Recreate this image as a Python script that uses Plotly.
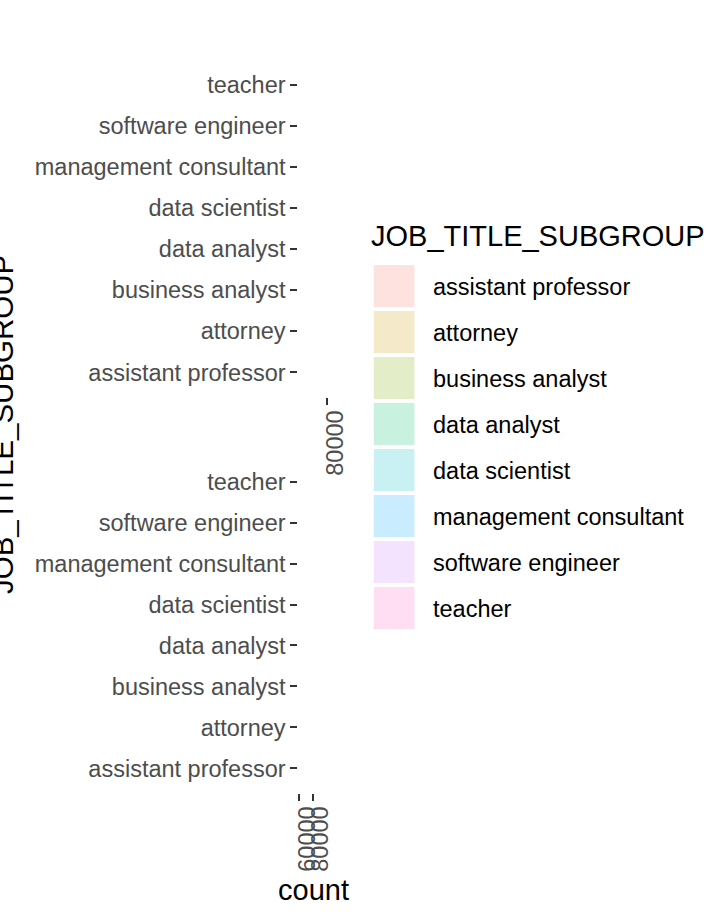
import plotly.graph_objects as go

# ---------------- data ----------------
job_titles = ["assistant professor", "attorney", "business analyst", "data analyst",
              "data scientist", "management consultant", "software engineer", "teacher"]
fill_colors = ["#F8766D", "#CD9600", "#7CAE00", "#00BE67",
               "#00BFC4", "#00A9FF", "#C77CFF", "#FF61CC"]
# counts per facet (bars fall outside the visible x-range in the reference)
counts_top = [42, 38, 51, 47, 55, 36, 60, 44]
counts_bottom = [40, 35, 49, 45, 52, 33, 58, 41]
# x-axis ticks per facet
top_tickvals = [80000]
top_ticktext = ["80000"]
top_range = [60000, 81300]
bottom_tickvals = [60000, 80000]
bottom_ticktext = ["60000", "80000"]
bottom_range = [58636, 104091]

legend_title = "JOB_TITLE_SUBGROUP"
x_title = "count"
y_title = "JOB_TITLE_SUBGROUP"

# ---------------- layout helpers ----------------
W, H = 720, 921
FONT = "Liberation Sans, Arial, sans-serif"
DX = 6  # horizontal correction
ALPHA = 0.21


def fx(px):
    return (px + DX) / W


def fy(py):
    return 1 - py / H


def rgba(hexc, a=ALPHA):
    h = hexc.lstrip("#")
    r, g, b = int(h[0:2], 16), int(h[2:4], 16), int(h[4:6], 16)
    return f"rgba({r},{g},{b},{a})"


fig = go.Figure()

for i, t in enumerate(job_titles):
    fig.add_trace(go.Bar(orientation="h", y=[t], x=[counts_top[i]], name=t,
                         marker=dict(color=rgba(fill_colors[i]), line=dict(width=0)),
                         xaxis="x", yaxis="y", showlegend=False))
    fig.add_trace(go.Bar(orientation="h", y=[t], x=[counts_bottom[i]], name=t,
                         marker=dict(color=rgba(fill_colors[i]), line=dict(width=0)),
                         xaxis="x2", yaxis="y2", showlegend=False))

panel_x = [fx(298), fx(330)]
TICK_FS = 23.5

common_x = dict(domain=panel_x, showgrid=False, zeroline=False, showline=False,
                ticks="outside", ticklen=7, tickwidth=2.2, tickcolor="#333333",
                tickangle=-90, tickfont=dict(family=FONT, size=TICK_FS, color="#4D4D4D"),
                ticklabelshift=8, ticklabelstandoff=-4, fixedrange=True)
common_y = dict(type="category", categoryorder="array", categoryarray=job_titles,
                range=[-0.6, 7.6], showgrid=False, zeroline=False, showline=False,
                ticks="outside", ticklen=7, tickwidth=2.2, tickcolor="#333333",
                tickfont=dict(family=FONT, size=TICK_FS, color="#4D4D4D"), fixedrange=True)

fig.update_layout(
    width=W, height=H,
    margin=dict(l=0, r=0, t=0, b=0),
    paper_bgcolor="white", plot_bgcolor="white",
    barmode="overlay", bargap=0.1,
    showlegend=False,
    xaxis=dict(anchor="y", range=top_range, tickvals=top_tickvals, ticktext=top_ticktext, **common_x),
    yaxis=dict(anchor="x", domain=[fy(397), fy(60)], **common_y),
    xaxis2=dict(anchor="y2", range=bottom_range, tickvals=bottom_tickvals, ticktext=bottom_ticktext, **common_x),
    yaxis2=dict(anchor="x2", domain=[fy(793), fy(457)], **common_y),
)

annotations = []
shapes = []
# axis titles
annotations.append(dict(text=x_title, x=fx(314), y=fy(890), xref="paper", yref="paper",
                        xanchor="center", yanchor="middle", showarrow=False,
                        font=dict(family=FONT, size=29, color="black")))
annotations.append(dict(text=y_title, x=fx(-8), y=fy(425), xref="paper", yref="paper",
                        xanchor="center", yanchor="middle", textangle=-90, showarrow=False,
                        font=dict(family=FONT, size=29.5, color="black")))
# legend
annotations.append(dict(text=legend_title, x=fx(371), y=fy(236), xref="paper", yref="paper",
                        xanchor="left", yanchor="middle", showarrow=False,
                        font=dict(family=FONT, size=29, color="black")))
for i, t in enumerate(job_titles):
    cy = 286 + 46 * i
    shapes.append(dict(type="rect", xref="paper", yref="paper",
                       x0=fx(376), x1=fx(418), y0=fy(cy + 21), y1=fy(cy - 21),
                       fillcolor=rgba(fill_colors[i]), line=dict(width=0)))
    annotations.append(dict(text=t, x=fx(435), y=fy(cy + 1), xref="paper", yref="paper",
                            xanchor="left", yanchor="middle", showarrow=False,
                            font=dict(family=FONT, size=TICK_FS, color="black")))

fig.update_layout(annotations=annotations, shapes=shapes)

fig.write_html("out.html")
